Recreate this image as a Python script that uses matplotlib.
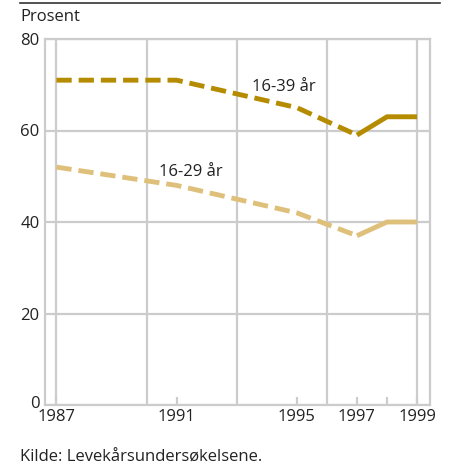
import matplotlib
matplotlib.use("Agg")
import matplotlib.pyplot as plt
from matplotlib.lines import Line2D
from matplotlib.transforms import ScaledTranslation

plt.rcParams['font.family'] = ['Open Sans', 'DejaVu Sans']
plt.rcParams['lines.scale_dashes'] = False

years = [1987, 1991, 1995, 1997, 1998, 1999]
age_16_39 = [71, 71, 65, 59, 63, 63]
age_16_29 = [52, 48, 42, 37, 40, 40]
xtick_years = [1987, 1991, 1995, 1997, 1998, 1999]
xtick_labels = ['1987', '1991', '1995', '1997', '', '1999']
grid_years = [1987, 1990, 1993, 1996, 1999]
yticks = [0, 20, 40, 60, 80]

dark = '#B58B00'
light = '#DFC07B'
grid_c = '#CCCCCC'
txt_c = '#222222'
fs = 12

fig = plt.figure(figsize=(4.49, 4.70), dpi=100)
ax = fig.add_axes([45/449, 1-405/470, (430-45)/449, (405-39)/470])
ax.set_xlim(1986.62, 1999.43)
ax.set_ylim(0, 80)

for gy in grid_years:
    ax.axvline(gy, color=grid_c, lw=1.6, zorder=1)
for yt in yticks:
    ax.axhline(yt, color=grid_c, lw=1.6, zorder=1)

split = years.index(1997)
for series, col in [(age_16_39, dark), (age_16_29, light)]:
    ax.plot(years[:split+1], series[:split+1], color=col, lw=3.5,
            dashes=(11, 5), solid_capstyle='butt', dash_capstyle='butt', zorder=3)
    ax.plot(years[split:], series[split:], color=col, lw=3.5,
            solid_joinstyle='miter', solid_capstyle='butt', zorder=3)

for s in ax.spines.values():
    s.set_color(grid_c)
    s.set_linewidth(1.6)

ax.set_yticks(yticks)
ax.set_xticks(xtick_years)
ax.set_xticklabels(xtick_labels)
ax.tick_params(axis='y', length=0, pad=4, labelsize=fs, colors=txt_c)
ax.tick_params(axis='x', direction='in', length=6, width=1.6, color=grid_c,
               pad=3, labelsize=fs, labelcolor=txt_c)
# nudge the "0" label slightly up as in the reference
lbl0 = ax.get_yticklabels()[0]
lbl0.set_transform(lbl0.get_transform() + ScaledTranslation(0, 3/100, fig.dpi_scale_trans))

ax.text(1994.57, 69.5, '16-39 år', ha='center', va='center', fontsize=fs, color=txt_c)
ax.text(1991.47, 50.9, '16-29 år', ha='center', va='center', fontsize=fs, color=txt_c)

fig.text(20/449, 1-17/470, 'Prosent', ha='left', va='center', fontsize=fs, color=txt_c)
fig.text(20/449, 1-458/470, 'Kilde: Levekårsundersøkelsene.', ha='left', va='center',
         fontsize=fs, color=txt_c)
fig.add_artist(Line2D([20/449, 440/449], [1-3/470, 1-3/470], color='#333333', lw=1.2,
                      transform=fig.transFigure))

fig.savefig('out.png', dpi=100)
